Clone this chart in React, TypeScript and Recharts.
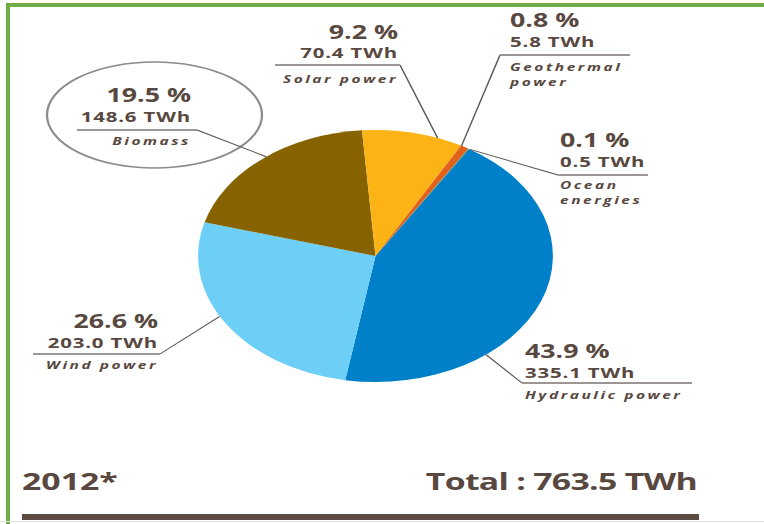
import React from 'react';
import { PieChart, Pie, Cell } from 'recharts';

// ---------- data ----------
const categories = ['Hydraulic power', 'Wind power', 'Biomass', 'Solar power', 'Geothermal power', 'Ocean energies'];
const twhValues = [335.1, 203.0, 148.6, 70.4, 5.8, 0.5];
const percentLabels = ['43.9', '26.6', '19.5', '9.2', '0.8', '0.1'];
const twhLabels = ['335.1', '203.0', '148.6', '70.4', '5.8', '0.5'];
const nameLines = [['Hydraulic power'], ['Wind power'], ['Biomass'], ['Solar power'], ['Geothermal', 'power'], ['Ocean', 'energies']];
const yearLabel = '2012*';
const totalLabel = '763.5';

// ---------- styles ----------
const sliceColors = ['#0080c8', '#6dcff6', '#876300', '#fbb316', '#e2621b', '#3c9a6e'];
const TEXT = '#584840';
const LEADER = '#5a5350';
const UNDER = '#9c9794';
const FONT = '"Open Sans", "Noto Sans", sans-serif';

// whole picture is horizontally stretched by S (the pie is a circle drawn wide)
const S = 1.408;
const X = (x: number) => x / S;
const W = 764 / S;
const H = 524;

// label layout (page pixel coordinates, before stretch)
const labelLayout = [
  { anchor: 141.5, ex: 522, ey: 383, ux: 692, side: 'right', tx: 525, pctY: 358, twhY: 378, nameY: [399] },
  { anchor: 241.4, ex: 160, ey: 354, ux: 33, side: 'left', tx: 158, pctY: 328, twhY: 348, nameY: [369] },
  { anchor: 322, ex: 197, ey: 130, ux: 77, side: 'left', tx: 191, pctY: 102, twhY: 122, nameY: [145], ring: { cx: 154.5, cy: 115, rx: 107.5, ry: 53 } },
  { anchor: 20.5, ex: 400, ey: 65, ux: 275, side: 'left', tx: 398, pctY: 39, twhY: 58, nameY: [83] },
  { anchor: 29, ex: 500, ey: 55, ux: 630, side: 'right', tx: 510, pctY: 27, twhY: 47, nameY: [71, 86] },
  { anchor: 32.2, ex: 558, ey: 175, ux: 648, side: 'right', tx: 560, pctY: 147, twhY: 167, nameY: [189, 204] },
];

const data = categories.map((name, i) => ({ name, value: twhValues[i] }));

const renderLabel = (props: any) => {
  const { cx, cy, outerRadius, index } = props;
  const L: any = labelLayout[index];
  if (!L) return null;
  const rad = (L.anchor * Math.PI) / 180;
  const ax = cx + outerRadius * Math.sin(rad);
  const ay = cy - outerRadius * Math.cos(rad);
  const anchor = L.side === 'left' ? 'end' : 'start';
  return (
    <g key={`lbl-${index}`}>
      {L.ring && (
        <ellipse cx={X(L.ring.cx)} cy={L.ring.cy} rx={X(L.ring.rx)} ry={L.ring.ry} fill="none" stroke="#8c8c8c" strokeWidth={1.6} />
      )}
      <line x1={ax} y1={ay} x2={X(L.ex)} y2={L.ey} stroke={LEADER} strokeWidth={1} />
      <line x1={X(L.ex)} y1={L.ey} x2={X(L.ux)} y2={L.ey} stroke={UNDER} strokeWidth={2} />
      <text x={X(L.tx)} y={L.pctY} textAnchor={anchor} fill={TEXT} fontFamily={FONT} fontWeight={700} fontSize={19}>
        {percentLabels[index]} %
      </text>
      <text x={X(L.tx)} y={L.twhY} textAnchor={anchor} fill={TEXT} fontFamily={FONT} fontWeight={700} fontSize={14.5} letterSpacing={0.6}>
        {twhLabels[index]} TWh
      </text>
      {nameLines[index].map((ln, k) => (
        <text key={k} x={X(L.tx)} y={L.nameY[k]} textAnchor={anchor} fill={TEXT} fontFamily={FONT} fontWeight={700} fontStyle="italic" fontSize={11} letterSpacing={1.8}>
          {ln}
        </text>
      ))}
    </g>
  );
};

export default function App() {
  return (
    <div style={{ position: 'absolute', left: 0, top: 0, width: 764, height: H, overflow: 'hidden', background: '#ffffff' }}>
      <div style={{ position: 'relative', width: W, height: H, transform: `scaleX(${S})`, transformOrigin: '0 0' }}>
        <svg width={W} height={H} style={{ position: 'absolute', left: 0, top: 0 }}>
          <rect x={X(6)} y={3} width={X(764) - X(6)} height={4} fill="#70ad47" />
          <rect x={X(6)} y={3} width={X(4)} height={H} fill="#70ad47" />
          <line x1={0} y1={521.5} x2={W} y2={521.5} stroke="#e2e2e2" strokeWidth={1} />
          <rect x={X(22)} y={514} width={X(699) - X(22)} height={6} fill="#5a4a42" />
          <text x={X(22)} y={490} fill={TEXT} fontFamily={FONT} fontWeight={700} fontSize={24}>
            {yearLabel}
          </text>
          <text x={X(697)} y={490} textAnchor="end" fill={TEXT} fontFamily={FONT} fontWeight={700} fontSize={24} letterSpacing={-0.5}>
            Total : {totalLabel} TWh
          </text>
        </svg>
        <div style={{ position: 'absolute', left: 0, top: 0 }}>
          <PieChart width={W} height={H} margin={{ top: 0, right: 0, bottom: 0, left: 0 }}>
            <Pie
              data={data}
              dataKey="value"
              nameKey="name"
              cx={X(375.5)}
              cy={256}
              outerRadius={126}
              startAngle={58.2}
              endAngle={-301.8}
              stroke="none"
              label={renderLabel}
              labelLine={false}
              isAnimationActive={false}
            >
              {data.map((d, i) => (
                <Cell key={d.name} fill={sliceColors[i]} stroke="none" />
              ))}
            </Pie>
          </PieChart>
        </div>
      </div>
    </div>
  );
}
